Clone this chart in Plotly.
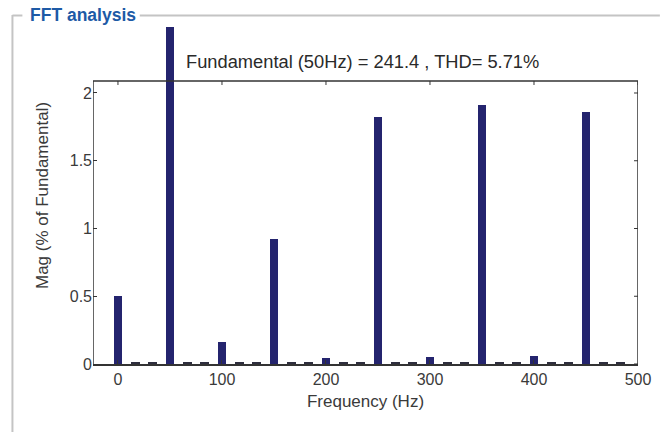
import plotly.graph_objects as go

# Harmonic bins (Hz) and magnitudes (% of fundamental)
harm_freq = [0, 50, 100, 150, 200, 250, 300, 350, 400, 450]
harm_mag = [0.50, 100.0, 0.165, 0.92, 0.042, 1.82, 0.054, 1.91, 0.06, 1.86]

# Inter-harmonic bins (Hz) and magnitudes
inter_freq = [16.67, 33.33, 66.67, 83.33, 116.67, 133.33, 166.67, 183.33,
              216.67, 233.33, 266.67, 283.33, 316.67, 333.33, 366.67, 383.33,
              416.67, 433.33, 466.67, 483.33]
inter_mag = [0.012] * 20

x_ticks = [0, 100, 200, 300, 400, 500]
y_ticks = [0, 0.5, 1, 1.5, 2]
y_tick_text = ["0", "0.5", "1", "1.5", "2"]

x_lim = [-24, 500]
y_lim = [0, 2.0886]      # axes box limits
y_view_top = 2.487       # drawing area extends above the box (bar overflow)

title_text = "FFT analysis"
info_text = "Fundamental (50Hz) = 241.4 , THD= 5.71%"

FONT = "Liberation Sans, Arial, sans-serif"
BAR = "#24246e"
AX = "#333333"
TXT = "#3a3a3a"

fig = go.Figure()
fig.add_trace(go.Bar(x=inter_freq, y=inter_mag, width=8.3,
                     marker=dict(color="#2e2e3e", line=dict(width=0)),
                     showlegend=False))
fig.add_trace(go.Bar(x=harm_freq, y=harm_mag, width=8.3,
                     marker=dict(color=BAR, line=dict(width=0)),
                     showlegend=False))

W, H = 663, 432
L, R, T, B = 93, 22, 27, 68
ph = H - T - B
pw = W - L - R
ypx = (H - B - 93) / 2.0   # px per y unit
xpx = pw / (x_lim[1] - x_lim[0])
tick_len = 4


def py(px):  # pixel y (from top) -> paper y
    return 1 + (T - px) / ph


def px_(x):  # pixel x -> paper x
    return (x - L) / pw


shapes = []
# axes box (top, left, right) limited to y_lim
box = dict(color=AX, width=1.5)
shapes.append(dict(type="line", xref="x", yref="y", x0=x_lim[0], x1=x_lim[1],
                   y0=y_lim[1], y1=y_lim[1], line=box, layer="above"))
shapes.append(dict(type="line", xref="x", yref="y", x0=x_lim[0], x1=x_lim[0],
                   y0=y_lim[0], y1=y_lim[1], line=box, layer="above"))
shapes.append(dict(type="line", xref="x", yref="y", x0=x_lim[1], x1=x_lim[1],
                   y0=y_lim[0], y1=y_lim[1], line=box, layer="above"))
# mirrored ticks on top and right
for xv in x_ticks:
    shapes.append(dict(type="line", xref="x", yref="y", x0=xv, x1=xv,
                       y0=y_lim[1], y1=y_lim[1] - tick_len / ypx,
                       line=dict(color=AX, width=1), layer="above"))
for yv in y_ticks:
    shapes.append(dict(type="line", xref="x", yref="y", x0=x_lim[1],
                       x1=x_lim[1] - tick_len / xpx, y0=yv, y1=yv,
                       line=dict(color=AX, width=1), layer="above"))
# group box frame
frame = dict(color="#c4c4c4", width=2)
shapes += [
    dict(type="line", xref="paper", yref="paper", x0=px_(12), x1=px_(12),
         y0=py(15), y1=py(H), line=frame, layer="above"),
    dict(type="line", xref="paper", yref="paper", x0=px_(12), x1=px_(22),
         y0=py(15.5), y1=py(15.5), line=frame, layer="above"),
    dict(type="line", xref="paper", yref="paper", x0=px_(140), x1=px_(W),
         y0=py(15.5), y1=py(15.5), line=frame, layer="above"),
]

annotations = [
    dict(text=f"<b>{title_text}</b>", xref="paper", yref="paper",
         x=px_(28), y=py(15), xanchor="left", yanchor="middle", showarrow=False,
         font=dict(family=FONT, size=17.5, color="#1d5aa6")),
    dict(text=info_text, xref="paper", yref="paper",
         x=px_(364), y=py(61), xanchor="center", yanchor="middle", showarrow=False,
         font=dict(family=FONT, size=18.3, color="#2a2a2a")),
]

fig.update_layout(
    width=W, height=H,
    margin=dict(l=L, r=R, t=T, b=B),
    paper_bgcolor="white", plot_bgcolor="white",
    barmode="overlay", bargap=0,
    font=dict(family=FONT, size=16, color=TXT),
    shapes=shapes, annotations=annotations,
    xaxis=dict(range=x_lim, tickvals=x_ticks, ticks="inside", ticklen=tick_len,
               tickwidth=1, tickcolor=AX, showline=True, linecolor=AX,
               linewidth=1.5, mirror=False, showgrid=False, zeroline=False,
               tickfont=dict(size=16, color=TXT),
               title=dict(text="Frequency (Hz)", standoff=8,
                          font=dict(size=17, color=TXT))),
    yaxis=dict(range=[y_lim[0], y_view_top], tickvals=y_ticks,
               ticktext=y_tick_text, ticks="inside", ticklen=tick_len,
               tickwidth=1, tickcolor=AX, showline=False, showgrid=False,
               zeroline=False, tickfont=dict(size=16, color=TXT),
               title=dict(text="Mag (% of Fundamental)", standoff=16,
                          font=dict(size=17, color=TXT))),
)

fig.write_html("out.html")
